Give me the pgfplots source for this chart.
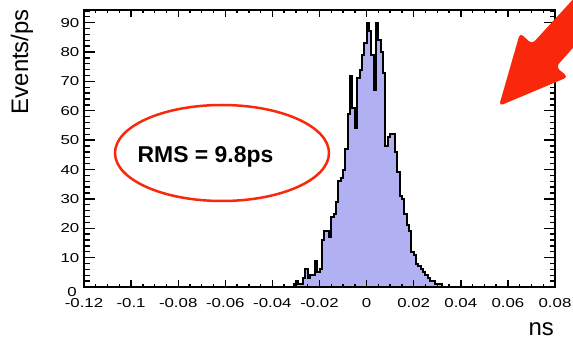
\documentclass[border=0pt]{standalone}
\usepackage{pgfplots}
\pgfplotsset{compat=1.18}
\usepackage{fontspec}
\setmainfont{Liberation Sans}
\newfontfamily\tickfont[FakeStretch=1.3]{Liberation Sans}
\definecolor{histfill}{RGB}{176,176,242}
\definecolor{annred}{RGB}{250,40,10}
\pgfplotsset{/pgf/number format/assume math mode=true}
\begin{document}
\begin{tikzpicture}
\useasboundingbox (0,0) rectangle (573bp,340bp);
\begin{axis}[
  at={(84bp,53bp)}, anchor=south west, scale only axis,
  width=471bp, height=277bp,
  xmin=-0.12, xmax=0.08, ymin=0, ymax=94.3,
  axis on top,
  axis line style={line width=2bp},
  xtick={-0.12,-0.1,-0.08,-0.06,-0.04,-0.02,0,0.02,0.04,0.06,0.08},
  xticklabels={-0.12,-0.1,-0.08,-0.06,-0.04,-0.02,0,0.02,0.04,0.06,0.08},
  minor x tick num=3,
  ytick=\empty,
  major tick length=7bp, minor tick length=3.5bp,
  every tick/.style={black, line width=1.4bp},
  xticklabel style={font=\tickfont\fontsize{13}{15}\selectfont, anchor=base, yshift=-20bp, inner sep=0pt},
]
\addplot[const plot, fill=histfill, draw=black, line width=2bp] coordinates {
(-0.032,0)
(-0.031,1) (-0.030,2) (-0.029,1) (-0.028,1) (-0.027,3) (-0.026,6) (-0.025,3) (-0.024,4)
(-0.023,4) (-0.022,9) (-0.021,5) (-0.020,6) (-0.019,16) (-0.018,19) (-0.017,19) (-0.016,17)
(-0.015,24) (-0.014,25) (-0.013,29) (-0.012,36) (-0.011,37) (-0.010,40) (-0.009,47) (-0.008,59)
(-0.007,72) (-0.006,61) (-0.005,54) (-0.004,71) (-0.003,74) (-0.002,79) (-0.001,83)
(0.000,90) (0.001,87) (0.002,79) (0.003,67) (0.004,90) (0.005,84) (0.006,80) (0.007,73)
(0.008,48) (0.009,51) (0.010,52) (0.011,52) (0.012,46) (0.013,39) (0.014,31) (0.015,30)
(0.016,25) (0.017,21) (0.018,19) (0.019,12) (0.020,11) (0.021,8) (0.022,7) (0.023,6)
(0.024,5) (0.025,4) (0.026,3) (0.027,2) (0.028,2) (0.029,1) (0.030,1) (0.031,1)
(0.032,0)
} \closedcycle;
\end{axis}
\begin{axis}[
  at={(84bp,53bp)}, anchor=south west, scale only axis,
  width=471bp, height=277bp,
  xmin=-0.12, xmax=0.08, ymin=0, ymax=94.3,
  axis line style={line width=2bp},
  xtick=\empty,
  ytick={0,10,20,30,40,50,60,70,80,90},
  yticklabels={{},10,20,30,40,50,60,70,80,90},
  minor ytick={0,2,...,94},
  major tick length=11bp, minor tick length=5.5bp,
  every tick/.style={black, line width=1.4bp},
  yticklabel style={font=\tickfont\fontsize{13}{15}\selectfont, anchor=base east, xshift=-4.5bp, yshift=-4.6bp, inner sep=0pt},
]
\end{axis}
\node[anchor=base east, inner sep=0pt, font=\tickfont\fontsize{13}{15}\selectfont] at (77bp,43bp) {0};
\node[rotate=90, anchor=base east, inner sep=0pt, font=\fontsize{24}{28}\selectfont] at (28bp,331bp) {Events/ps};
\node[anchor=base east, inner sep=0pt, font=\fontsize{24}{28}\selectfont] at (554bp,5bp) {ns};
\draw[annred, line width=2.5bp] (222bp,187bp) ellipse [x radius=107bp, y radius=48bp];
\node[anchor=base, inner sep=0pt, font=\bfseries\fontsize{23}{27}\selectfont] at (205.5bp,177bp) {RMS = 9.8ps};
\begin{scope}
\clip (0,0) rectangle (573bp,340bp);
\fill[annred, rounded corners=4bp] (499bp,234bp) -- (568bp,263bp) -- (556bp,273bp) -- (622bp,348bp) -- (600bp,370bp) -- (532bp,296bp) -- (520bp,307bp) -- cycle;
\end{scope}
\end{tikzpicture}
\end{document}
